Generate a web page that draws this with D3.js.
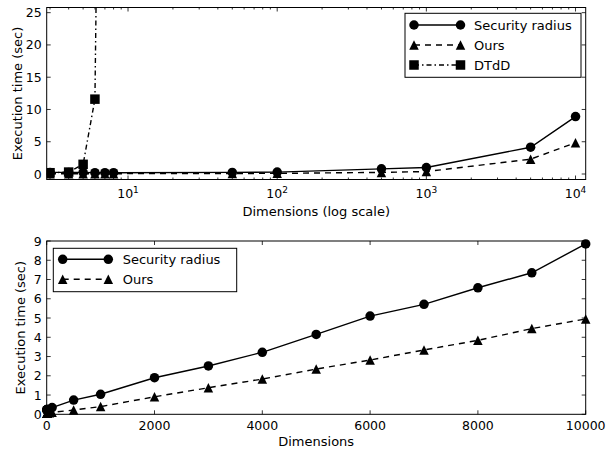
<!DOCTYPE html>
<html>
<head>
<meta charset="utf-8">
<script src="https://cdnjs.cloudflare.com/ajax/libs/d3/7.8.5/d3.min.js"></script>
<style>
  body { margin: 0; background: #fff; }
  svg { font-family: "DejaVu Sans", sans-serif; }
</style>
</head>
<body>
<script>
// top panel (log x)
const logDims = [3, 4, 5, 6, 7, 8, 50, 100, 500, 1000, 5000, 10000];
const logSecurity = [0.25, 0.25, 0.25, 0.2, 0.2, 0.2, 0.25, 0.3, 0.8, 1.0, 4.15, 8.9];
const logOurs = [0.05, 0.05, 0.05, 0.05, 0.05, 0.05, 0.08, 0.1, 0.25, 0.38, 2.3, 4.85];
const dtddDims = [3, 4, 5, 6, 7];
const dtddTimes = [0.2, 0.3, 1.5, 11.6, 140];
const topYTicks = [0, 5, 10, 15, 20, 25];
const logXTicks = [10, 100, 1000, 10000];

// bottom panel (linear x)
const linDims = [3, 4, 5, 6, 7, 8, 50, 100, 500, 1000, 2000, 3000, 4000, 5000, 6000, 7000, 8000, 9000, 10000];
const linSecurity = [0.25, 0.25, 0.25, 0.2, 0.2, 0.2, 0.25, 0.35, 0.74, 1.04, 1.9, 2.51, 3.22, 4.15, 5.1, 5.71, 6.57, 7.35, 8.85];
const linOurs = [0.05, 0.05, 0.05, 0.05, 0.05, 0.05, 0.08, 0.1, 0.22, 0.4, 0.91, 1.38, 1.83, 2.35, 2.82, 3.34, 3.84, 4.45, 4.95];
const botXTicks = [0, 2000, 4000, 6000, 8000, 10000];
const botYTicks = [0, 1, 2, 3, 4, 5, 6, 7, 8, 9];

const width = 608, height = 453;
const left = 46.7, right = 585.7;
const ms = 9.5; // marker size

const svg = d3.select("body").append("svg")
  .attr("width", width)
  .attr("height", height);

function marker(g, shape, x, y) {
  const h = ms / 2;
  if (shape === "circle") {
    g.append("circle").attr("cx", x).attr("cy", y).attr("r", h).attr("fill", "#000");
  } else if (shape === "triangle") {
    g.append("path").attr("d", `M${x},${y - h}L${x + h},${y + h}L${x - h},${y + h}Z`).attr("fill", "#000");
  } else {
    g.append("rect").attr("x", x - h).attr("y", y - h).attr("width", ms).attr("height", ms).attr("fill", "#000");
  }
}

function drawSeries(g, xs, ys, x, y, shape, dash) {
  const pts = xs.map((d, i) => [x(d), y(ys[i])]);
  g.append("path")
    .attr("d", d3.line()(pts))
    .attr("fill", "none")
    .attr("stroke", "#000")
    .attr("stroke-width", 1.4)
    .attr("stroke-dasharray", dash);
  pts.forEach(p => marker(g, shape, p[0], p[1]));
}

function frame(top, bottom, x, y, xMajor, xMinor, yMajor, id) {
  const g = svg.append("g");
  const tl = 4, tm = 2;
  xMajor.forEach(v => {
    g.append("line").attr("x1", x(v)).attr("x2", x(v)).attr("y1", bottom).attr("y2", bottom - tl);
    g.append("line").attr("x1", x(v)).attr("x2", x(v)).attr("y1", top).attr("y2", top + tl);
  });
  xMinor.forEach(v => {
    g.append("line").attr("x1", x(v)).attr("x2", x(v)).attr("y1", bottom).attr("y2", bottom - tm);
    g.append("line").attr("x1", x(v)).attr("x2", x(v)).attr("y1", top).attr("y2", top + tm);
  });
  yMajor.forEach(v => {
    g.append("line").attr("x1", left).attr("x2", left + tl).attr("y1", y(v)).attr("y2", y(v));
    g.append("line").attr("x1", right).attr("x2", right - tl).attr("y1", y(v)).attr("y2", y(v));
  });
  g.selectAll("line").attr("stroke", "#000").attr("stroke-width", 0.8);
  g.append("rect")
    .attr("x", left).attr("y", top)
    .attr("width", right - left).attr("height", bottom - top)
    .attr("fill", "none").attr("stroke", "#000").attr("stroke-width", 1);

  g.selectAll(".ylab")
    .data(yMajor)
    .join("text")
      .attr("x", left - 5)
      .attr("y", d => y(d))
      .attr("dy", "0.36em")
      .attr("text-anchor", "end")
      .attr("font-size", 12.5)
      .text(d => d);

  svg.append("clipPath").attr("id", id)
    .append("rect")
    .attr("x", left).attr("y", top)
    .attr("width", right - left).attr("height", bottom - top);
}

// ---------- top panel ----------
const t0 = 7.5, t1 = 179.5;
const xLog = d3.scaleLog().domain([2.85, 11700]).range([left, right]);
const yTop = d3.scaleLinear().domain([-0.85, 25.8]).range([t1, t0]);

const minorLog = [];
[1, 10, 100, 1000].forEach(k => {
  for (let m = 2; m <= 9; m++) {
    const v = m * k;
    if (v > xLog.domain()[0] && v < xLog.domain()[1]) minorLog.push(v);
  }
});

frame(t0, t1, xLog, yTop, logXTicks, minorLog, topYTicks, "clipTop");

const topData = svg.append("g").attr("clip-path", "url(#clipTop)");
drawSeries(topData, logDims, logSecurity, xLog, yTop, "circle", null);
drawSeries(topData, logDims, logOurs, xLog, yTop, "triangle", "6,5");
drawSeries(topData, dtddDims, dtddTimes, xLog, yTop, "square", "5,3,1.5,3");

// log tick labels 10^k
logXTicks.forEach(v => {
  const t = svg.append("text")
    .attr("x", xLog(v))
    .attr("y", t1 + 18)
    .attr("text-anchor", "middle")
    .attr("font-size", 12.5);
  t.append("tspan").text("10");
  t.append("tspan").attr("dy", -5).attr("font-size", 9).text(Math.log10(v));
});

svg.append("text")
  .attr("x", (left + right) / 2)
  .attr("y", 216)
  .attr("text-anchor", "middle")
  .attr("font-size", 13)
  .text("Dimensions (log scale)");

svg.append("text")
  .attr("transform", `translate(22,${(t0 + t1) / 2}) rotate(-90)`)
  .attr("text-anchor", "middle")
  .attr("font-size", 13)
  .text("Execution time (sec)");

// top legend
const lgTop = svg.append("g");
lgTop.append("rect")
  .attr("x", 405).attr("y", 13.3).attr("width", 176).attr("height", 64)
  .attr("fill", "#fff").attr("stroke", "#000").attr("stroke-width", 1);
const topLegend = [
  ["Security radius", "circle", null],
  ["Ours", "triangle", "6,5"],
  ["DTdD", "square", "5,3,1.5,3"]
];
topLegend.forEach((d, i) => {
  const yy = 25 + i * 20;
  drawSeries(lgTop, [414, 460.5], [yy, yy], v => v, v => v, d[1], d[2]);
  lgTop.append("text").attr("x", 474).attr("y", yy).attr("dy", "0.36em")
    .attr("font-size", 13).text(d[0]);
});

// ---------- bottom panel ----------
const b0 = 241, b1 = 414.3;
const xLin = d3.scaleLinear().domain([0, 10000]).range([left, right]);
const yBot = d3.scaleLinear().domain([0, 9]).range([b1, b0]);

frame(b0, b1, xLin, yBot, botXTicks, [], botYTicks, "clipBot");

const botData = svg.append("g");
drawSeries(botData, linDims, linSecurity, xLin, yBot, "circle", null);
drawSeries(botData, linDims, linOurs, xLin, yBot, "triangle", "6,5");

svg.selectAll(".bx")
  .data(botXTicks)
  .join("text")
    .attr("x", d => xLin(d))
    .attr("y", b1 + 16)
    .attr("text-anchor", "middle")
    .attr("font-size", 12.5)
    .text(d => d);

svg.append("text")
  .attr("x", (left + right) / 2)
  .attr("y", 446)
  .attr("text-anchor", "middle")
  .attr("font-size", 13)
  .text("Dimensions");

svg.append("text")
  .attr("transform", `translate(25,${(b0 + b1) / 2}) rotate(-90)`)
  .attr("text-anchor", "middle")
  .attr("font-size", 13)
  .text("Execution time (sec)");

// bottom legend
const lgBot = svg.append("g");
lgBot.append("rect")
  .attr("x", 53.3).attr("y", 248.3).attr("width", 183.4).attr("height", 43.4)
  .attr("fill", "#fff").attr("stroke", "#000").attr("stroke-width", 1);
const botLegend = [
  ["Security radius", "circle", null],
  ["Ours", "triangle", "6,5"]
];
botLegend.forEach((d, i) => {
  const yy = 259.3 + i * 20;
  drawSeries(lgBot, [62.7, 108.3], [yy, yy], v => v, v => v, d[1], d[2]);
  lgBot.append("text").attr("x", 122.7).attr("y", yy).attr("dy", "0.36em")
    .attr("font-size", 13).text(d[0]);
});
</script>
</body>
</html>
